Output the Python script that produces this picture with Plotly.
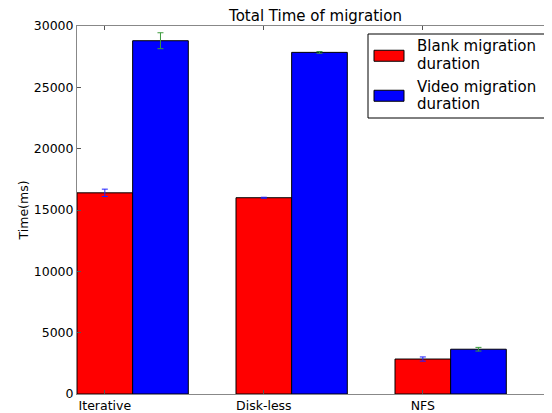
import plotly.graph_objects as go

categories = ["Iterative", "Disk-less", "NFS"]
blank_values = [16400, 16000, 2850]
blank_errors = [300, 40, 170]
video_values = [28800, 27850, 3650]
video_errors = [650, 70, 150]
series_names = ["Blank migration duration", "Video migration duration"]
series_colors = ["#ff0000", "#0000ff"]
bar_width = 0.35

ind = list(range(len(categories)))
red_x = [i + bar_width / 2 for i in ind]
blue_x = [i + bar_width * 1.5 for i in ind]

# page body has an 8px margin, so the figure is shrunk by that amount
OFF = 8
W, H = 552 - OFF, 413 - OFF
L, R, T, B = 77 - OFF, 0, 26 - OFF, 19
plot_w = W - L - R
plot_h = H - T - B
px_per_unit = 159.0


def px(xw):  # window x -> paper x
    return (xw - 77) / plot_w


def py(yw):  # window y -> paper y
    return 1 - (yw - 26) / plot_h


fig = go.Figure()
fig.add_trace(go.Bar(
    x=red_x, y=blank_values, width=bar_width, name=series_names[0],
    marker=dict(color=series_colors[0], line=dict(color="black", width=1)),
    error_y=dict(type="data", array=blank_errors, color="#2020ff", thickness=1, width=3),
))
fig.add_trace(go.Bar(
    x=blue_x, y=video_values, width=bar_width, name=series_names[1],
    marker=dict(color=series_colors[1], line=dict(color="black", width=1)),
    error_y=dict(type="data", array=video_errors, color="#3c9a3c", thickness=1, width=3),
))

font = "DejaVu Sans"

# custom legend (matplotlib style): box, colour patches, two-line labels
shapes = [dict(type="rect", xref="paper", yref="paper", x0=px(368), x1=px(545), y0=py(118), y1=py(34),
               line=dict(color="black", width=1), fillcolor="white", layer="above")]
annotations = []
line_gap = 17.5
first_line = [46.5, 86.5]
for k, name in enumerate(series_names):
    y1 = first_line[k]
    mid = y1 + line_gap / 2 + 0.5
    shapes.append(dict(type="rect", xref="paper", yref="paper", x0=px(374), x1=px(404),
                       y0=py(mid + 5.5), y1=py(mid - 5.5), line=dict(color="black", width=1),
                       fillcolor=series_colors[k], layer="above"))
    words = name.split(" ")
    lines = [" ".join(words[:2]), " ".join(words[2:])]
    for j, line in enumerate(lines):
        annotations.append(dict(text=line, xref="paper", yref="paper", x=px(416),
                                y=py(y1 + line_gap * j), xanchor="left", yanchor="middle",
                                borderpad=0, showarrow=False,
                                font=dict(family=font, size=15, color="black")))

fig.update_layout(
    width=W, height=H,
    margin=dict(l=L, r=R, t=T, b=B, autoexpand=False),
    plot_bgcolor="white", paper_bgcolor="white",
    barmode="overlay",
    showlegend=False,
    font=dict(family=font, size=12.5, color="black"),
    title=dict(text="Total Time of migration", x=(L + 3 * px_per_unit / 2) / W,
               xanchor="center", y=1 - (16 - OFF) / H, yanchor="middle", yref="container",
               font=dict(family=font, size=15, color="black")),
    shapes=shapes,
    annotations=annotations,
    xaxis=dict(range=[0, plot_w / px_per_unit], tickvals=red_x, ticktext=categories,
               ticks="inside", ticklen=4, tickcolor="#555", showline=True, linecolor="#888",
               linewidth=1, mirror="ticks", showgrid=False, zeroline=False, automargin=False,
               tickfont=dict(family=font, size=12.5)),
    yaxis=dict(range=[0, 30000], tickvals=[0, 5000, 10000, 15000, 20000, 25000, 30000],
               tickformat="d",
               ticks="inside", ticklen=4, tickcolor="#555", showline=True, linecolor="#888",
               linewidth=1, mirror="ticks", showgrid=False, zeroline=False, automargin=False,
               title=dict(text="Time(ms)", font=dict(family=font, size=12.5), standoff=2),
               tickfont=dict(family=font, size=12.5)),
)

fig.write_html("out.html")
